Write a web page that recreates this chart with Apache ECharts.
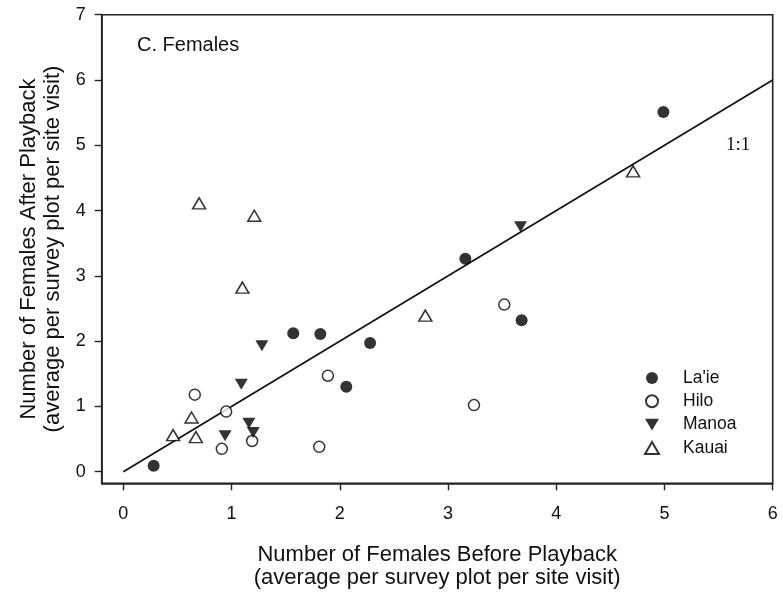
<!DOCTYPE html>
<html><head><meta charset="utf-8">
<script src="https://cdn.jsdelivr.net/npm/echarts@6/dist/echarts.min.js"></script>
<style>html,body{margin:0;padding:0;background:#fff}#c{width:783px;height:597px}</style>
</head><body><div id="c"></div><script>
// Data (x = before playback, y = after playback)
const laie  = [[0.28,0.09],[1.57,2.12],[1.82,2.11],[2.06,1.30],[2.28,1.97],[3.16,3.26],[3.68,2.32],[4.99,5.51]];
const hilo  = [[0.66,1.18],[0.95,0.92],[0.91,0.35],[1.19,0.47],[1.81,0.38],[1.89,1.47],[3.24,1.02],[3.52,2.56]];
const manoa = [[0.94,0.55],[1.09,1.34],[1.16,0.74],[1.20,0.60],[1.28,1.93],[3.67,3.75]];
const kauai = [[0.46,0.56],[0.63,0.83],[0.67,0.53],[0.70,4.11],[1.10,2.82],[1.21,3.92],[2.79,2.39],[4.71,4.60]];
const oneToOne = [[0,0],[6,6]];
const xTicks = [0,1,2,3,4,5,6];
const yTicks = [0,1,2,3,4,5,6,7];
const seriesNames = ["La'ie","Hilo","Manoa","Kauai"];
const xTitle = 'Number of Females Before Playback\n(average per survey plot per site visit)';
const yTitle = 'Number of Females After Playback\n(average per survey plot per site visit)';
const panelLabel = 'C. Females';
const lineLabel = '1:1';

const FONT = '"Liberation Sans", Arial, sans-serif';
const downTri = 'path://M0,0 L12,0 L6,10 Z';
const chart = echarts.init(document.getElementById('c'), null, {renderer:'canvas'});
chart.setOption({
  animation:false,
  backgroundColor:'#fff',
  textStyle:{fontFamily:FONT},
  grid:{left:101.7, top:14.7, width:671, height:468.6, containLabel:false, outerBoundsMode:'none',
        show:true, borderColor:'#222', borderWidth:1.6, backgroundColor:'transparent'},
  xAxis:{type:'value', min:-0.2, max:6,
     axisLine:{show:true, onZero:false, lineStyle:{color:'#222', width:1.6}}, splitLine:{show:false},
     axisTick:{show:true, inside:false, length:7, customValues:xTicks, lineStyle:{color:'#222', width:1.4}},
     axisLabel:{margin:22, fontSize:18, color:'#111', fontFamily:FONT, customValues:xTicks},
     name:xTitle, nameLocation:'middle', nameGap:60,
     nameTextStyle:{fontSize:22, color:'#111', fontFamily:FONT, lineHeight:23}},
  yAxis:{type:'value', min:-0.178, max:7,
     axisLine:{show:true, onZero:false, lineStyle:{color:'#222', width:1.6}}, splitLine:{show:false},
     axisTick:{show:true, inside:false, length:7, customValues:yTicks, lineStyle:{color:'#222', width:1.4}},
     axisLabel:{margin:16, fontSize:18, color:'#111', fontFamily:FONT, customValues:yTicks},
     name:yTitle, nameLocation:'middle', nameGap:15, nameRotate:90,
     nameTextStyle:{fontSize:22, color:'#111', fontFamily:FONT, lineHeight:24}},
  legend:{
    orient:'vertical', left:639, top:364, itemGap:5.3, itemWidth:14, itemHeight:12, padding:5,
    data:seriesNames,
    textStyle:{fontSize:17.5, color:'#111', fontFamily:FONT, padding:[0,0,0,19]}
  },
  graphic:[
    {type:'text', left:137, top:35, style:{text:panelLabel, font:'20px '+FONT, fill:'#111'}},
    {type:'text', left:726, top:136, style:{text:lineLabel, font:'19px "Liberation Serif", "Times New Roman", serif', fill:'#111'}}
  ],
  series:[
    {type:'line', name:'1:1', data:oneToOne, showSymbol:false, symbol:'none',
     lineStyle:{color:'#111', width:1.7}, silent:true, z:1},
    {type:'scatter', name:seriesNames[0], data:laie, symbol:'circle', symbolSize:12,
     itemStyle:{color:'#000'}, z:3},
    {type:'scatter', name:seriesNames[1], data:hilo, symbol:'circle', symbolSize:11,
     itemStyle:{color:'#fff', borderColor:'#000', borderWidth:1.5}, z:3},
    {type:'scatter', name:seriesNames[2], data:manoa, symbol:downTri, symbolSize:[13,11],
     itemStyle:{color:'#000'}, z:3},
    {type:'scatter', name:seriesNames[3], data:kauai, symbol:'triangle', symbolSize:[13,11],
     itemStyle:{color:'#fff', borderColor:'#000', borderWidth:1.5}, z:3}
  ]
});
</script></body></html>
